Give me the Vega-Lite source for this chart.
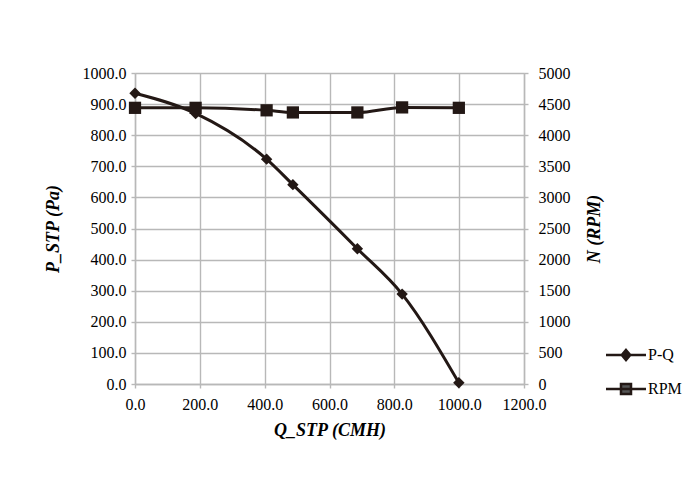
{
  "$schema": "https://vega.github.io/schema/vega-lite/v6.json",
  "width": 389,
  "height": 311,
  "autosize": {"type": "none"},
  "padding": {"left": 135, "top": 73, "right": 176, "bottom": 110},
  "background": "white",
  "config": {
    "view": {"stroke": null},
    "axis": {
      "labelFont": "Liberation Serif",
      "labelFontSize": 16,
      "labelColor": "#000000",
      "labelOverlap": false,
      "labelFlush": false,
      "titleFont": "Liberation Serif",
      "titleFontSize": 18,
      "titleFontWeight": "bold",
      "titleFontStyle": "italic",
      "titleColor": "#000000",
      "gridColor": "#b8b8b8",
      "gridWidth": 1.4,
      "gridOpacity": 1,
      "domainColor": "#b8b8b8",
      "domainWidth": 1.4,
      "tickColor": "#b8b8b8",
      "tickWidth": 1.4,
      "tickSize": 4
    }
  },
  "data": {
    "values": [
      {"Q": 0, "P": 935, "N": 4440},
      {"Q": 187, "P": 870, "N": 4440},
      {"Q": 406, "P": 723, "N": 4400},
      {"Q": 487, "P": 641, "N": 4366},
      {"Q": 686, "P": 435, "N": 4366},
      {"Q": 824, "P": 289, "N": 4447},
      {"Q": 999, "P": 4, "N": 4440}
    ]
  },
  "layer": [
    {
      "encoding": {
        "x": {
          "field": "Q", "type": "quantitative",
          "scale": {"domain": [0, 1200], "nice": false, "zero": false},
          "axis": {"values": [0, 200, 400, 600, 800, 1000, 1200], "format": ".1f", "title": "Q_STP (CMH)", "labelPadding": 8, "titlePadding": 9}
        },
        "y": {
          "field": "P", "type": "quantitative",
          "scale": {"domain": [0, 1000], "nice": false},
          "axis": {"orient": "left", "values": [0, 100, 200, 300, 400, 500, 600, 700, 800, 900, 1000], "format": ".1f", "title": "P_STP (Pa)", "labelPadding": 5, "titlePadding": 20}
        }
      },
      "layer": [
        {
          "mark": {"type": "line", "interpolate": "monotone", "strokeWidth": 3},
          "encoding": {
            "color": {
              "datum": "P-Q",
              "scale": {"domain": ["P-Q", "RPM"], "range": ["#231815", "#231815"]},
              "legend": {
                "orient": "none",
                "legendX": 483,
                "legendY": 274,
                "title": null,
                "padding": 0,
                "symbolSize": 100,
                "labelFont": "Liberation Serif",
                "labelFontSize": 16,
                "labelColor": "#000000",
                "labelOffset": 14,
                "rowPadding": 14,
                "encode": {
                  "symbols": {
                    "update": {
                      "shape": {"signal": "datum.value === 'P-Q' ? 'M-4,0L4,0M0,-1L0.85,0L0,1L-0.85,0Z' : 'M-4,0L4,0M-1,-1L1,-1L1,1L-1,1Z'"},
                      "fill": {"signal": "datum.value === 'P-Q' ? '#231815' : '#555555'"},
                      "stroke": {"value": "#231815"},
                      "strokeWidth": {"value": 2.5},
                      "opacity": {"value": 1},
                      "fillOpacity": {"value": 1}
                    }
                  }
                }
              }
            }
          }
        },
        {
          "mark": {"type": "point", "shape": "diamond", "filled": true, "size": 130, "color": "#231815", "opacity": 1}
        }
      ]
    },
    {
      "encoding": {
        "x": {"field": "Q", "type": "quantitative"},
        "y": {
          "field": "N", "type": "quantitative",
          "scale": {"domain": [0, 5000], "nice": false},
          "axis": {"orient": "right", "grid": false, "values": [0, 500, 1000, 1500, 2000, 2500, 3000, 3500, 4000, 4500, 5000], "format": "d", "title": "N (RPM)", "titleAngle": 270, "labelPadding": 10, "titlePadding": 33}
        }
      },
      "layer": [
        {
          "mark": {"type": "line", "interpolate": "monotone", "strokeWidth": 3},
          "encoding": {"color": {"datum": "RPM"}}
        },
        {
          "mark": {"type": "point", "shape": "square", "filled": true, "size": 150, "color": "#231815", "opacity": 1}
        }
      ]
    }
  ],
  "resolve": {"scale": {"y": "independent"}}
}
